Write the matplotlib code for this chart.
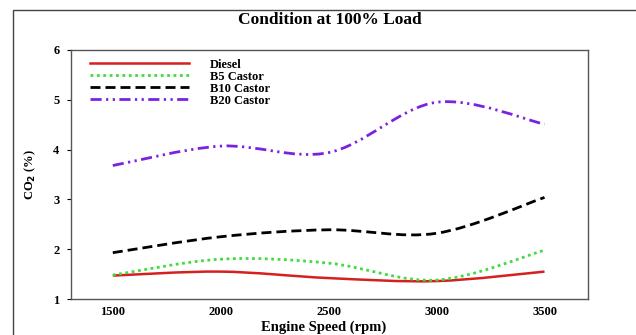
import numpy as np
import matplotlib
matplotlib.use("Agg")
import matplotlib.pyplot as plt
from matplotlib.path import Path
from matplotlib.patches import PathPatch, Rectangle
from matplotlib.lines import Line2D

speed = [1500, 2000, 2500, 3000, 3500]
diesel = [1.47, 1.55, 1.42, 1.36, 1.55]
b5 = [1.48, 1.80, 1.72, 1.38, 1.98]
b10 = [1.93, 2.25, 2.39, 2.32, 3.04]
b20 = [3.68, 4.07, 3.94, 4.95, 4.51]
labels = ["Diesel", "B5 Castor", "B10 Castor", "B20 Castor"]
xticks = [1500, 2000, 2500, 3000, 3500]
yticks = [1, 2, 3, 4, 5, 6]

plt.rcParams['font.family'] = ['Liberation Serif', 'DejaVu Serif']
plt.rcParams['font.weight'] = 'bold'

fig = plt.figure(figsize=(6.36, 3.35), dpi=100)
fig.patches.append(Rectangle((13/636, -0.1), 1.2, 1 - 9.5/335 + 0.1, transform=fig.transFigure,
                             fill=False, edgecolor='#444444', lw=1.0, zorder=0))
ax = fig.add_axes([70.7/636, 1 - 299/335, 517/636, 249/335])


def smooth_path(xs, ys):
    pts = np.column_stack([xs, ys]).astype(float)
    n = len(pts)
    verts = [pts[0]]
    codes = [Path.MOVETO]
    for i in range(n - 1):
        p0 = pts[max(i - 1, 0)]
        p1 = pts[i]
        p2 = pts[i + 1]
        p3 = pts[min(i + 2, n - 1)]
        c1 = p1 + (p2 - p0) / 6.0
        c2 = p2 - (p3 - p1) / 6.0
        verts += [c1, c2, p2]
        codes += [Path.CURVE4] * 3
    return Path(verts, codes)


styles = [
    dict(color='#d61f1f', linestyle='-', lw=1.8),
    dict(color='#3fdc3f', linestyle=(0, (1, 1.3)), lw=2.0),
    dict(color='#000000', linestyle=(0, (3.6, 1.8)), lw=2.0),
    dict(color='#7a22e0', linestyle=(0, (4, 1.6, 0.8, 1.6, 0.8, 1.6)), lw=2.0),
]
series = [diesel, b5, b10, b20]
handles = []
for ys, st, lab in zip(series, styles, labels):
    patch = PathPatch(smooth_path(speed, ys), fill=False, edgecolor=st['color'],
                      linestyle=st['linestyle'], lw=st['lw'], capstyle='butt')
    ax.add_patch(patch)
    handles.append(Line2D([], [], color=st['color'], linestyle=st['linestyle'], lw=st['lw']))

ax.set_xlim(1305, 3700)
ax.set_ylim(1, 6)
ax.set_xticks(xticks)
ax.set_yticks(yticks)
ax.tick_params(axis='x', length=0, pad=5, labelsize=9)
ax.tick_params(axis='y', length=3, width=0.8, pad=5, labelsize=9)
for lab in ax.get_xticklabels() + ax.get_yticklabels():
    lab.set_fontweight('bold')
for sp in ax.spines.values():
    sp.set_color('#555555')
    sp.set_linewidth(1.0)

fig.text(324/636, 1 - 327/335, "Engine Speed (rpm)", ha='center', va='center',
         fontsize=10.5, fontweight='bold')
fig.text(30/636, 1 - 175/335, "CO$_\\mathbf{2}$ (%)", ha='center', va='center',
         rotation=90, fontsize=9, fontweight='bold')
fig.text(330/636, 1 - 20/335, "Condition at 100% Load", ha='center', va='center',
         fontsize=12.5, fontweight='bold')

leg = ax.legend(handles, labels, loc='upper left', bbox_to_anchor=(0.037, 0.965),
                frameon=False, fontsize=9, handlelength=7.9, handletextpad=1.7,
                labelspacing=0.0, borderpad=0, borderaxespad=0)
for t in leg.get_texts():
    t.set_fontweight('bold')

fig.savefig("out.png", dpi=100)
